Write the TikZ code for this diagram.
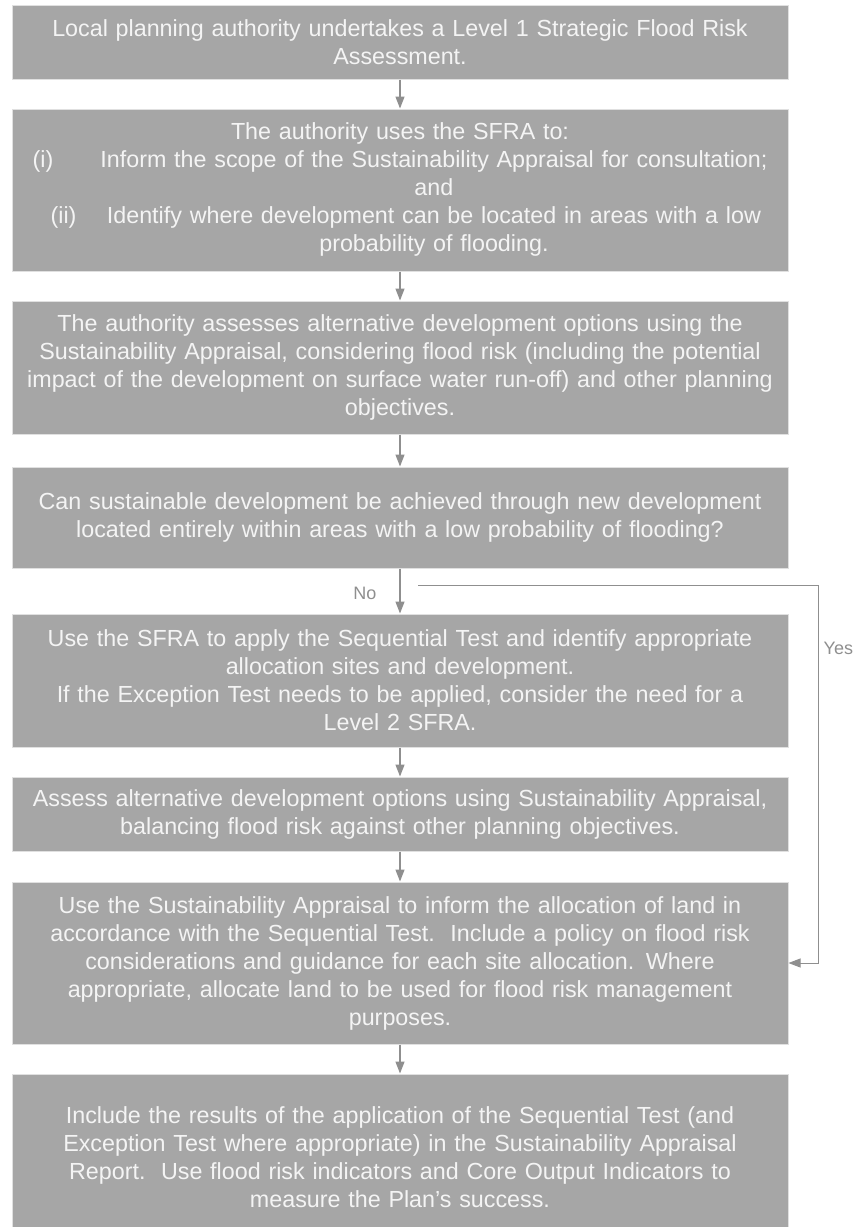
\documentclass[tikz,border=0pt]{standalone}
\usepackage{fontspec}
\setmainfont{Liberation Sans}
\usetikzlibrary{arrows.meta,positioning,calc}
\definecolor{boxgray}{HTML}{A6A6A6}
\definecolor{linegray}{HTML}{8F8F8F}
\definecolor{textwhite}{HTML}{F4F4F4}
\tikzset{
    stepbox/.style={draw=black!12, line width=1pt, fill=boxgray, text=textwhite, minimum width=776pt, text width=776pt, align=center, inner sep=0pt, font=\fontsize{23.3}{28}\selectfont},
    flow/.style={-{Triangle[length=12pt, width=9pt]}, linegray, line width=1.3pt},
    yesflow/.style={-{Triangle[length=12pt, width=9pt]}, linegray, line width=0.9pt},
    lbl/.style={text=linegray, inner sep=0pt, font=\fontsize{18}{20}\selectfont}
}

\begin{document}
\begin{tikzpicture}[x=1pt, y=1pt, node distance=29pt]
    \useasboundingbox (0,0) rectangle (853,-1227);
    \node[stepbox, minimum height=74pt] (sfra) at (400,-42) {Local planning authority undertakes a Level 1 Strategic Flood Risk\\ Assessment.};
    \node[stepbox, minimum height=162pt, below=of sfra] (uses) {%
        \begin{tabular}{@{}l@{\hspace{24pt}}c@{}}
        \multicolumn{2}{c}{The authority uses the SFRA to:}\\
        (i) & Inform the scope of the Sustainability Appraisal for consultation;\\
            & and\\
        \hspace*{18pt}(ii) & Identify where development can be located in areas with a low\\
            & probability of flooding.
        \end{tabular}};
    \node[stepbox, minimum height=133pt, below=of uses] (options) {The authority assesses alternative development options using the\\ Sustainability Appraisal, considering flood risk (including the potential\\ impact of the development on surface water run-off) and other planning\\ objectives.};
    \node[stepbox, minimum height=101pt, below=32pt of options] (question) {Can sustainable development be achieved through new development\\ located entirely within areas with a low probability of flooding?};
    \node[stepbox, minimum height=133pt, below=45pt of question] (sequential) {Use the SFRA to apply the Sequential Test and identify appropriate\\ allocation sites and development.\\ If the Exception Test needs to be applied, consider the need for a\\ Level 2 SFRA.};
    \node[stepbox, minimum height=74pt, below=of sequential] (balance) {Assess alternative development options using Sustainability Appraisal,\\ balancing flood risk against other planning objectives.};
    \node[stepbox, minimum height=162pt, below=30pt of balance] (allocate) {Use the Sustainability Appraisal to inform the allocation of land in\\ accordance with the Sequential Test.\ \ Include a policy on flood risk\\ considerations and guidance for each site allocation. Where\\ appropriate, allocate land to be used for flood risk management\\ purposes.};
    \node[stepbox, minimum height=166pt, below=of allocate] (report) {Include the results of the application of the Sequential Test (and\\ Exception Test where appropriate) in the Sustainability Appraisal\\ Report.\ \ Use flood risk indicators and Core Output Indicators to\\ measure the Plan’s success.};

    \draw[flow] (sfra) -- (uses);
    \draw[flow] (uses) -- (options);
    \draw[flow] (options) -- (question);
    \draw[flow] (question) -- (sequential);
    \draw[flow] (sequential) -- (balance);
    \draw[flow] (balance) -- (allocate);
    \draw[flow] (allocate) -- (report);

    % the Yes branch skips straight to the allocation step
    \coordinate (yesstart) at ($(question.south)+(18,-17)$);
    \coordinate (yescorner) at ($(question.south east)+(30,-17)$);
    \draw[yesflow] (yesstart) -- (yescorner) |- (allocate.east);

    \node[lbl] (no) at ($(question.south)+(-35,-25)$) {No};
    \node[lbl, anchor=west] (yes) at ($(yescorner)+(5,-63)$) {Yes};
\end{tikzpicture}
\end{document}
